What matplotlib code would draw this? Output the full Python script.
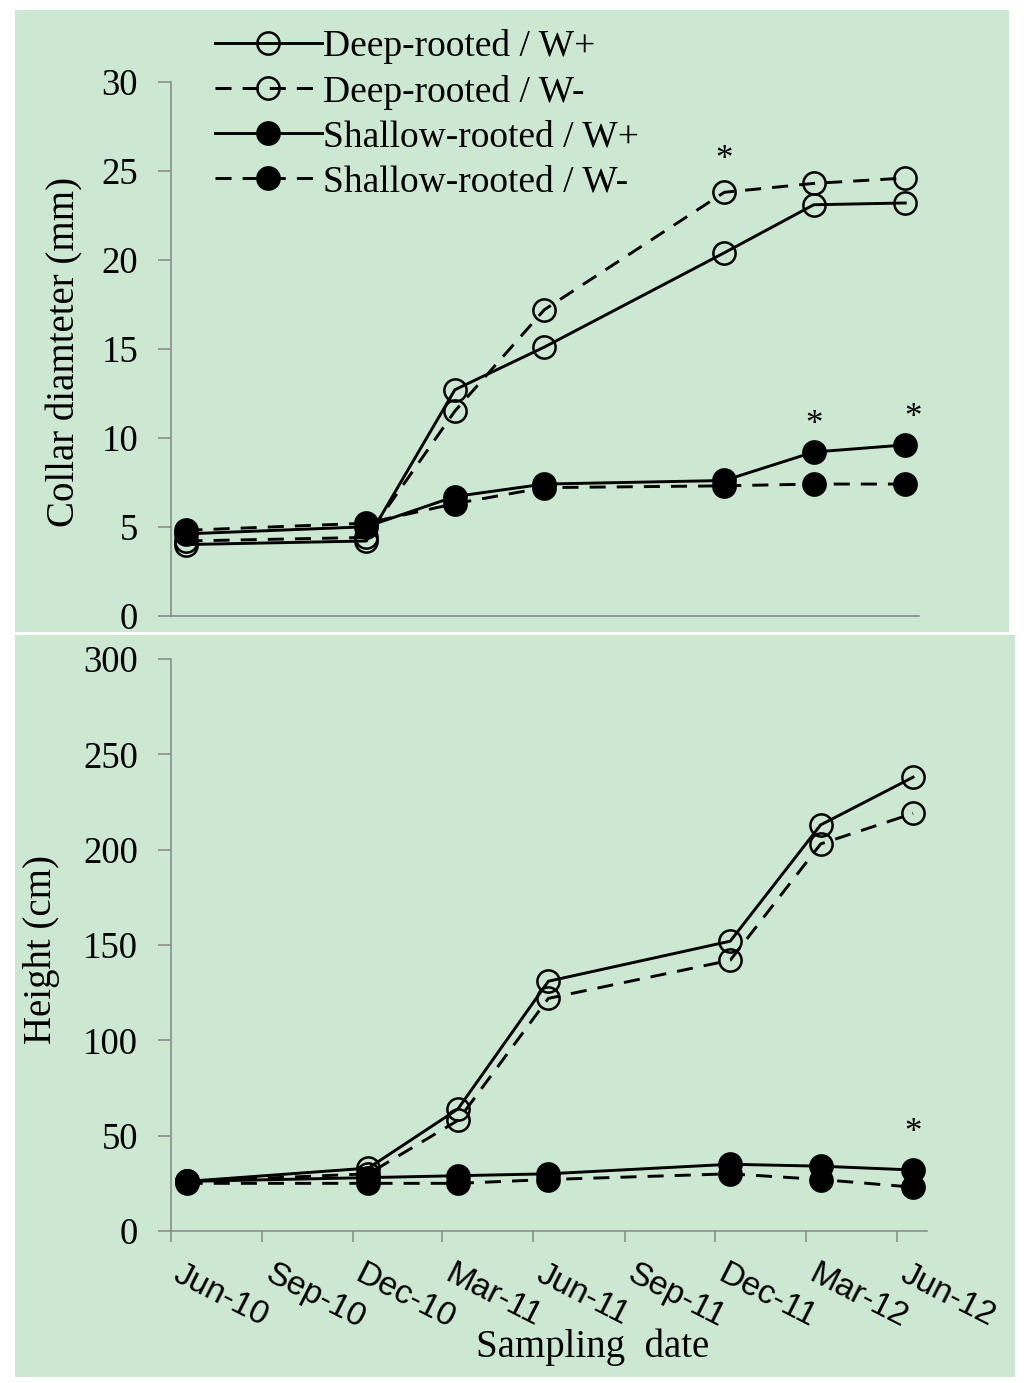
import matplotlib
matplotlib.use('Agg')
import matplotlib.pyplot as plt
import matplotlib.dates as mdates
import matplotlib.transforms as mtransforms
from matplotlib.patches import Rectangle
from datetime import datetime

# sampling dates
dates = [datetime(2010, 6, 17), datetime(2010, 12, 17), datetime(2011, 3, 17),
         datetime(2011, 6, 16), datetime(2011, 12, 16), datetime(2012, 3, 16),
         datetime(2012, 6, 17)]

# collar diameter (mm)
diam_deep_wp = [4.0, 4.2, 12.7, 15.1, 20.4, 23.1, 23.2]
diam_deep_wm = [4.2, 4.4, 11.5, 17.2, 23.8, 24.3, 24.6]
diam_shal_wp = [4.6, 5.0, 6.7, 7.4, 7.6, 9.2, 9.6]
diam_shal_wm = [4.8, 5.2, 6.3, 7.2, 7.3, 7.4, 7.4]

# height (cm)
h_deep_wp = [26, 33, 64, 131, 152, 213, 238]
h_deep_wm = [26, 30, 58, 122, 142, 203, 219]
h_shal_wp = [26, 28, 29, 30, 35, 34, 32]
h_shal_wm = [25, 25, 25, 27, 30, 27, 23]

# significance marks
star_diam = [(datetime(2011, 12, 16), 25.6), (datetime(2012, 3, 16), 10.7), (datetime(2012, 6, 25), 11.1)]
star_h = [(datetime(2012, 6, 17), 51)]

labels = ['Deep-rooted / W+', 'Deep-rooted / W-', 'Shallow-rooted / W+', 'Shallow-rooted / W-']
tick_dates = [datetime(2010, 6, 1), datetime(2010, 9, 1), datetime(2010, 12, 1), datetime(2011, 3, 1),
              datetime(2011, 6, 1), datetime(2011, 9, 1), datetime(2011, 12, 1), datetime(2012, 3, 1),
              datetime(2012, 6, 1)]
tick_labels = ['Jun-10', 'Sep-10', 'Dec-10', 'Mar-11', 'Jun-11', 'Sep-11', 'Dec-11', 'Mar-12', 'Jun-12']
xmin, xmax = datetime(2010, 6, 1), datetime(2012, 7, 1)

green = '#cde8d2'
gray = '#868686'
serif = 'Liberation Serif'

W, H = 1024, 1383
fig = plt.figure(figsize=(W / 100, H / 100), dpi=100)
fig.patch.set_facecolor('white')

def px(x0, y0, x1, y1):
    return [x0 / W, 1 - y1 / H, (x1 - x0) / W, (y1 - y0) / H]

# green panels
fig.add_artist(Rectangle((15 / W, 1 - 632 / H), (1009 - 15) / W, (632 - 10) / H,
                         transform=fig.transFigure, facecolor=green, edgecolor='none', zorder=0))
fig.add_artist(Rectangle((15 / W, 1 - 1377 / H), (1015 - 15) / W, (1377 - 635) / H,
                         transform=fig.transFigure, facecolor=green, edgecolor='none', zorder=0))

ax1 = fig.add_axes(px(170.7, 82, 919, 615.7))
ax2 = fig.add_axes(px(170.7, 659, 927, 1231))

styles = [
    dict(linestyle='-', marker='o', mfc='none'),
    dict(linestyle=(0, (5.5, 3.8)), marker='o', mfc='none'),
    dict(linestyle='-', marker='o', mfc='black'),
    dict(linestyle=(0, (5.5, 3.8)), marker='o', mfc='black'),
]

for ax, series in [(ax1, [diam_deep_wp, diam_deep_wm, diam_shal_wp, diam_shal_wm]),
                   (ax2, [h_deep_wp, h_deep_wm, h_shal_wp, h_shal_wm])]:
    for vals, st, lab in zip(series, styles, labels):
        ax.plot(dates, vals, color='black', lw=2.1, ms=16, mew=1.8, mec='black',
                label=lab, **st)
    ax.set_facecolor('none')
    ax.set_xlim(xmin, xmax)
    for s in ['top', 'right']:
        ax.spines[s].set_visible(False)
    for s in ['left', 'bottom']:
        ax.spines[s].set_color(gray)
        ax.spines[s].set_linewidth(1.1)
    ax.tick_params(axis='y', direction='out', length=9.5, width=1.1, color=gray, pad=14)

ax1.set_ylim(0, 30)
ax1.set_yticks(range(0, 31, 5))
ax1.set_xticks([])
ax2.set_ylim(0, 300)
ax2.set_yticks(range(0, 301, 50))
for ax in (ax1, ax2):
    for t in ax.get_yticklabels():
        t.set_fontfamily(serif)
        t.set_fontsize(26.5)

ax2.set_xticks(tick_dates)
ax2.set_xticklabels(tick_labels, rotation=-27, ha='left', va='top', rotation_mode='anchor',
                    fontsize=24, fontfamily='Liberation Sans')
ax2.tick_params(axis='x', direction='out', length=8, width=1.1, color=gray, pad=12)
offset = mtransforms.ScaledTranslation(12 / 100, 0, fig.dpi_scale_trans)
for t in ax2.get_xticklabels():
    t.set_transform(t.get_transform() + offset)

for d, v in star_diam:
    ax1.text(d, v, '*', ha='center', va='center', fontsize=25, fontfamily=serif)
for d, v in star_h:
    ax2.text(d, v, '*', ha='center', va='center', fontsize=25, fontfamily=serif)

ax1.legend(loc='upper left', bbox_to_anchor=(215 / W, 1 - 29 / H), bbox_transform=fig.transFigure,
           frameon=False, borderpad=0, borderaxespad=0, handlelength=2.85, handletextpad=0.02,
           labelspacing=0.28, prop={'family': serif, 'size': 27})

fig.text(65 / W, 1 - 352 / H, 'Collar diamteter (mm)', rotation=90, ha='center', va='center',
         fontsize=28, fontfamily=serif)
fig.text(42 / W, 1 - 950 / H, 'Height (cm)', rotation=90, ha='center', va='center',
         fontsize=28, fontfamily=serif)
fig.text(593 / W, 1 - 1347 / H, 'Sampling  date', ha='center', va='center',
         fontsize=28, fontfamily=serif)

fig.savefig('out.png', dpi=100, facecolor='white')
